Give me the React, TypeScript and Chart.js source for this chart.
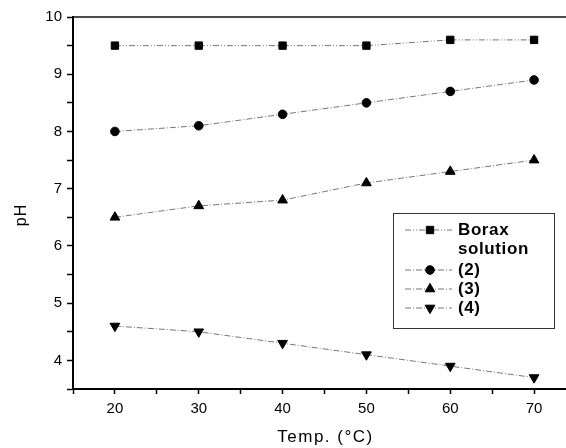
import React, { useEffect, useRef } from "react";
import { Chart, registerables } from "chart.js";
import { drawPoint } from "chart.js/helpers";

Chart.register(...registerables);

const temps = [20, 30, 40, 50, 60, 70];
const borax = [9.5, 9.5, 9.5, 9.5, 9.6, 9.6];
const s2 = [8.0, 8.1, 8.3, 8.5, 8.7, 8.9];
const s3 = [6.5, 6.7, 6.8, 7.1, 7.3, 7.5];
const s4 = [4.6, 4.5, 4.3, 4.1, 3.9, 3.7];
const seriesNames = ["Borax\nsolution", "(2)", "(3)", "(4)"];
const xTitle = "Temp. (°C)";
const yTitle = "pH";

const FONT = "'Liberation Sans', Arial, Helvetica, sans-serif";
const styles = [
  { pointStyle: "rect", rotation: 0, radius: 5.2, dash: [6, 2, 1, 2, 1, 2] },
  { pointStyle: "circle", rotation: 0, radius: 4.3, dash: [6, 2, 1, 2] },
  { pointStyle: "triangle", rotation: 0, radius: 5.6, dash: [6, 2, 1, 2] },
  { pointStyle: "triangle", rotation: 180, radius: 5.6, dash: [6, 2, 1, 2] },
];

const pair = (ys: number[]) => temps.map((x, i) => ({ x, y: ys[i] }));

const framePlugin = {
  id: "frame",
  afterDraw(chart: any) {
    const { ctx, chartArea } = chart;
    ctx.save();
    ctx.strokeStyle = "#111";
    ctx.lineWidth = 1.5;
    ctx.beginPath();
    ctx.moveTo(chartArea.left, chartArea.top);
    ctx.lineTo(chartArea.right, chartArea.top);
    ctx.lineTo(chartArea.right, chartArea.bottom);
    ctx.stroke();
    // axis titles
    ctx.fillStyle = "#000";
    ctx.textAlign = "center";
    ctx.textBaseline = "middle";
    (ctx as any).letterSpacing = "1.5px";
    ctx.font = "17px " + FONT;
    ctx.fillText(xTitle, (chartArea.left + chartArea.right) / 2 + 1, 437);
    (ctx as any).letterSpacing = "1px";
    ctx.font = "16px " + FONT;
    ctx.translate(22, 215);
    ctx.rotate(-Math.PI / 2);
    ctx.fillText(yTitle, 0, 0);
    ctx.restore();
  },
};

const legendPlugin = {
  id: "customLegend",
  afterDraw(chart: any) {
    const { ctx } = chart;
    ctx.save();
    const bx = 393, by = 213, bw = 161, bh = 115;
    ctx.strokeStyle = "#333";
    ctx.lineWidth = 1;
    ctx.strokeRect(bx + 0.5, by + 0.5, bw, bh);
    const rows = [230, 270, 289, 308];
    seriesNames.forEach((name, i) => {
      const y = rows[i];
      const st = styles[i];
      ctx.strokeStyle = "#777";
      ctx.lineWidth = 1;
      ctx.setLineDash(st.dash);
      ctx.beginPath();
      ctx.moveTo(405, y);
      ctx.lineTo(452, y);
      ctx.stroke();
      ctx.setLineDash([]);
      ctx.fillStyle = "#000";
      ctx.strokeStyle = "#000";
      drawPoint(ctx, { pointStyle: st.pointStyle, rotation: st.rotation, radius: st.radius, borderWidth: 1 } as any, 430, y);
      ctx.fillStyle = "#000";
      ctx.font = "bold 17px " + FONT;
      (ctx as any).letterSpacing = "0.6px";
      ctx.textBaseline = "middle";
      ctx.textAlign = "left";
      name.split("\n").forEach((ln, k) => ctx.fillText(ln, 458, y + k * 19.5));
      (ctx as any).letterSpacing = "0px";
    });
    ctx.restore();
  },
};

export default function App() {
  const ref = useRef<HTMLCanvasElement | null>(null);
  useEffect(() => {
    if (!ref.current) return;
    const datasets = [borax, s2, s3, s4].map((d, i) => ({
      label: seriesNames[i],
      data: pair(d),
      borderColor: "#777",
      borderWidth: 1,
      borderDash: styles[i].dash,
      backgroundColor: "#000",
      pointBackgroundColor: "#000",
      pointBorderColor: "#000",
      pointStyle: styles[i].pointStyle,
      pointRotation: styles[i].rotation,
      pointRadius: styles[i].radius,
      pointBorderWidth: 1,
      tension: 0,
      fill: false,
    }));
    const chart = new Chart(ref.current, {
      type: "line",
      data: { datasets } as any,
      options: {
        animation: false,
        responsive: false,
        maintainAspectRatio: false,
        layout: { padding: { left: 0, top: 17, right: 24, bottom: 0 } },
        plugins: { legend: { display: false }, tooltip: { enabled: false } },
        scales: {
          x: {
            type: "linear",
            min: 15,
            max: 75,
            afterFit(scale: any) { scale.height = 59; },
            ticks: {
              stepSize: 5,
              autoSkip: false,
              maxRotation: 0,
              color: "#000",
              font: { family: FONT, size: 15 },
              padding: 6,
              callback: (v: any) => (v % 10 === 0 ? String(v) : ""),
            },
            grid: { drawOnChartArea: false, tickLength: 5, tickColor: "#000", tickWidth: 1.5 },
            border: { color: "#000", width: 2 },
          },
          y: {
            min: 3.5,
            max: 10,
            afterFit(scale: any) { scale.width = 73; },
            ticks: {
              stepSize: 0.5,
              autoSkip: false,
              color: "#000",
              font: { family: FONT, size: 15 },
              padding: 5,
              callback: (v: any) => (Number.isInteger(v) ? String(v) : ""),
            },
            grid: { drawOnChartArea: false, tickLength: 6, tickColor: "#000", tickWidth: 1.5 },
            border: { color: "#000", width: 2 },
          },
        },
      } as any,
      plugins: [framePlugin, legendPlugin],
    });
    return () => chart.destroy();
  }, []);
  return (
    <div style={{ position: "fixed", left: 0, top: 0, width: 600, height: 448, background: "#fff" }}>
      <canvas ref={ref} width={600} height={448} style={{ width: 600, height: 448, display: "block" }} />
    </div>
  );
}
